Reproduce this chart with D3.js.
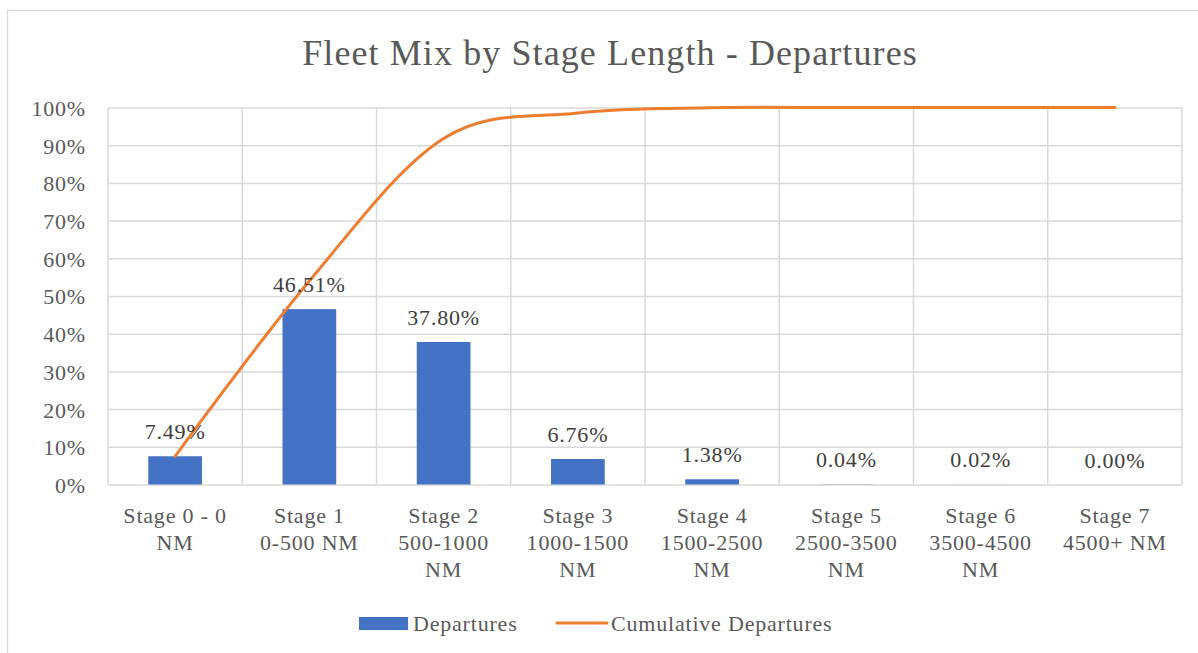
<!DOCTYPE html>
<html>
<head>
<meta charset="utf-8">
<script src="https://cdn.jsdelivr.net/npm/d3@7/dist/d3.min.js"></script>
<style>
  html, body { margin: 0; padding: 0; background: #fff; }
  svg { display: block; }
  text { font-family: "Liberation Serif", "Times New Roman", serif; fill: #595959; }
</style>
</head>
<body>
<svg id="chart" width="1198" height="653"></svg>
<script>
// ---- Data ----
const categories = [
  ["Stage 0 - 0", "NM"],
  ["Stage 1", "0-500 NM"],
  ["Stage 2", "500-1000", "NM"],
  ["Stage 3", "1000-1500", "NM"],
  ["Stage 4", "1500-2500", "NM"],
  ["Stage 5", "2500-3500", "NM"],
  ["Stage 6", "3500-4500", "NM"],
  ["Stage 7", "4500+ NM"]
];
const departures = [7.49, 46.51, 37.80, 6.76, 1.38, 0.04, 0.02, 0.00];
const cumulative = [7.49, 54.00, 91.80, 98.56, 99.94, 99.98, 100.00, 100.00];
const yTicks = [0, 10, 20, 30, 40, 50, 60, 70, 80, 90, 100];
const title = "Fleet Mix by Stage Length - Departures";
const seriesNames = ["Departures", "Cumulative Departures"];

// ---- Layout ----
const svg = d3.select("#chart");
const W = 1198, H = 653;
const plot = { left: 108, right: 1182, top: 107.5, bottom: 484.5 };
const barColor = "#4472C4", lineColor = "#ED7D31", gridColor = "#D9D9D9";

// outer chart border
svg.append("rect")
  .attr("x", 7.5).attr("y", 10.5)
  .attr("width", W + 10).attr("height", H + 10)
  .attr("fill", "none").attr("stroke", gridColor).attr("stroke-width", 1.5);

const idx = categories.map((d, i) => i);
const x = d3.scaleBand().domain(idx).range([plot.left, plot.right]).paddingInner(0).paddingOuter(0);
const y = d3.scaleLinear().domain([0, 100]).range([plot.bottom, plot.top]);

// title
svg.append("text")
  .attr("x", 610).attr("y", 65)
  .attr("text-anchor", "middle")
  .style("font-size", "36px")
  .style("letter-spacing", "1.1px")
  .text(title);

// horizontal gridlines
const yAxis = d3.axisLeft(y).tickValues(yTicks).tickSize(-(plot.right - plot.left)).tickFormat(d => d + "%").tickPadding(22);
const gy = svg.append("g").attr("transform", `translate(${plot.left},0)`).call(yAxis);
gy.select(".domain").remove();
gy.selectAll(".tick line").attr("stroke", gridColor).attr("stroke-width", 1.5);
gy.selectAll(".tick text")
  .attr("fill", "#595959")
  .style("font-size", "22px")
  .style("letter-spacing", "0.8px")
  .style("font-family", "Liberation Serif, serif")
  .attr("dy", "0.36em");

// vertical gridlines at band boundaries
const bounds = idx.map(i => x(i)).concat([x(idx[idx.length - 1]) + x.bandwidth()]);
svg.append("g").selectAll("line").data(bounds).join("line")
  .attr("x1", d => d).attr("x2", d => d)
  .attr("y1", plot.top).attr("y2", plot.bottom)
  .attr("stroke", gridColor).attr("stroke-width", 1.5);

// bars
const barW = x.bandwidth() * 0.4;
svg.append("g").selectAll("rect").data(departures).join("rect")
  .attr("x", (d, i) => x(i) + (x.bandwidth() - barW) / 2)
  .attr("y", d => y(d))
  .attr("width", barW)
  .attr("height", d => y(0) - y(d))
  .attr("fill", barColor);

// x axis labels
const gx = svg.append("g");
categories.forEach((lines, i) => {
  const t = gx.append("text")
    .attr("x", x(i) + x.bandwidth() / 2)
    .attr("y", 523)
    .attr("text-anchor", "middle")
    .style("font-size", "22px")
    .style("letter-spacing", "0.8px");
  lines.forEach((ln, k) => {
    t.append("tspan").attr("x", x(i) + x.bandwidth() / 2).attr("dy", k === 0 ? 0 : 27).text(ln);
  });
});

// cumulative line
const line = d3.line()
  .x((d, i) => x(i) + x.bandwidth() / 2)
  .y(d => y(d))
  .curve(d3.curveCardinal.tension(0));
svg.append("path")
  .datum(cumulative)
  .attr("d", line)
  .attr("fill", "none")
  .attr("stroke", lineColor)
  .attr("stroke-width", 3)
  .attr("stroke-linecap", "round");

// data labels
svg.append("g").selectAll("text").data(departures).join("text")
  .attr("x", (d, i) => x(i) + x.bandwidth() / 2)
  .attr("y", d => y(d) - 17)
  .attr("text-anchor", "middle")
  .style("font-size", "22px")
  .style("letter-spacing", "0.8px")
  .style("fill", "#404040")
  .text(d => d.toFixed(2) + "%");

// legend
const lg = svg.append("g");
lg.append("rect").attr("x", 359).attr("y", 617).attr("width", 49).attr("height", 13).attr("fill", barColor);
lg.append("text").attr("x", 413).attr("y", 631).style("font-size", "22px").style("letter-spacing", "0.8px").text(seriesNames[0]);
lg.append("line").attr("x1", 557).attr("x2", 607).attr("y1", 623).attr("y2", 623)
  .attr("stroke", lineColor).attr("stroke-width", 3).attr("stroke-linecap", "round");
lg.append("text").attr("x", 611).attr("y", 631).style("font-size", "22px").style("letter-spacing", "0.8px").text(seriesNames[1]);
</script>
</body>
</html>
